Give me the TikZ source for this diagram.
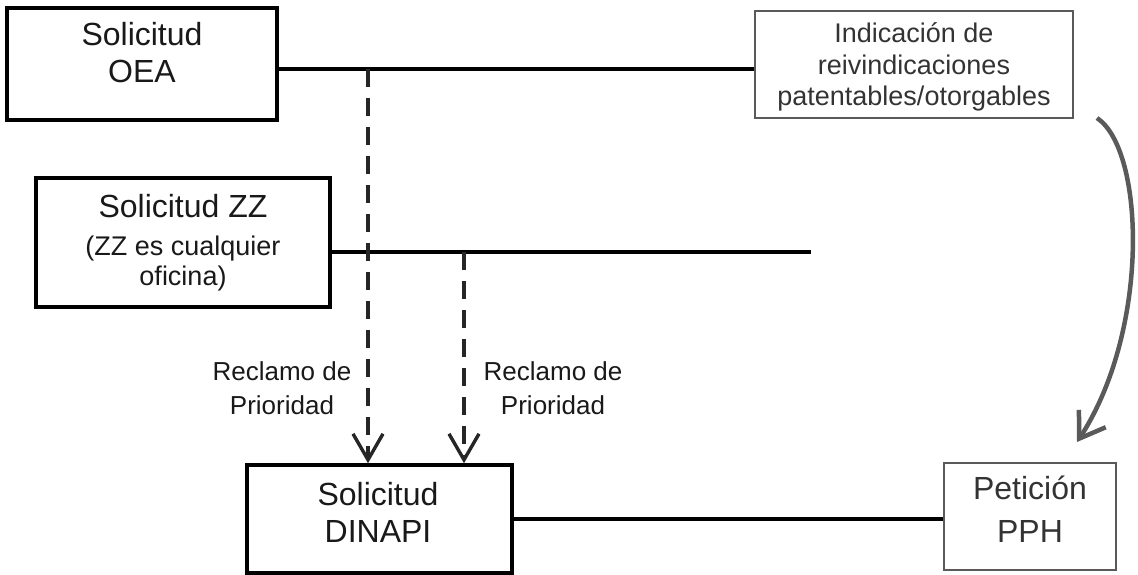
\documentclass[tikz,border=0pt]{standalone}
\usepackage{fontspec}
\setmainfont{Liberation Sans}
\usetikzlibrary{arrows.meta}
\definecolor{boxgray}{HTML}{5A5A5A}
\definecolor{txtgray}{HTML}{333333}
\begin{document}
\begin{tikzpicture}[x=1pt,y=-1pt,
  bbox/.style={draw=black, line width=3.6pt, rectangle, inner sep=0pt},
  gbox/.style={draw=boxgray, line width=1.6pt, rectangle, inner sep=0pt},
  bigtxt/.style={align=center, inner sep=0pt, text=black!90, font=\fontsize{32}{37}\selectfont},
  midtxt/.style={align=center, inner sep=0pt, text=black!90, font=\fontsize{27}{31.5}\selectfont},
  lbltxt/.style={align=center, inner sep=0pt, text=black!90, font=\fontsize{26}{34}\selectfont},
  conn/.style={line width=3.6pt, black},
  dashconn/.style={line width=3.2pt, black!85, dash pattern=on 18pt off 11pt,
    -{Straight Barb[length=26pt,width=30pt,line width=3.4pt]}},
  curvearr/.style={line width=4.5pt, boxgray,
    -{Straight Barb[length=24pt,width=32pt,line width=4.5pt]}}
]
\useasboundingbox (0,0) rectangle (1138,574);

% boxes
\node[bbox, minimum width=270pt, minimum height=112pt] (oea) at (142,64) {};
\node[bigtxt] (oeat) at (142,53) {Solicitud\\OEA};

\node[gbox, minimum width=318pt, minimum height=107pt] (ind) at (914,64.5) {};
\node[midtxt, text=txtgray] (indt) at (914,67) {Indicación de\\reivindicaciones\\patentables/otorgables};

\node[bbox, minimum width=294pt, minimum height=129pt] (zz) at (183,242.5) {};
\node[bigtxt, anchor=base] (zzt) at (183,217) {Solicitud ZZ};
\node[midtxt, anchor=base] (zzs1) at (183,255) {(ZZ es cualquier};
\node[midtxt, anchor=base] (zzs2) at (183,285) {oficina)};

\node[bbox, minimum width=265pt, minimum height=108pt] (dinapi) at (379.5,519) {};
\node[bigtxt] (dinapit) at (378,512) {Solicitud\\DINAPI};

\node[gbox, minimum width=172pt, minimum height=107pt] (pph) at (1030,516.5) {};
\node[bigtxt, text=txtgray, font=\fontsize{32}{43}\selectfont] (ppht) at (1030,509) {Petición\\PPH};

% labels
\node[lbltxt] (lbl1) at (282,388) {Reclamo de\\Prioridad};
\node[lbltxt] (lbl2) at (553,388) {Reclamo de\\Prioridad};

% connectors
\coordinate (oeaout) at ([yshift=-5pt]oea.east);
\draw[conn] (oeaout) -- (oeaout -| ind.west);

\coordinate (zzout) at ([yshift=-9.5pt]zz.east);
\coordinate (zzend) at (811,252);
\draw[conn] (zzout) -- (zzend);

\draw[conn] (dinapi.east) -- (dinapi.east -| pph.west);

\coordinate (d1) at (368,69);
\coordinate (d2) at (464,252);
\draw[dashconn] (d1) -- (d1 |- dinapi.north);
\draw[dashconn] (d2) -- (d2 |- dinapi.north);

\coordinate (cstart) at (1097,118);
\coordinate (cend) at (1077,442);
\draw[curvearr] (cstart) .. controls (1145,150) and (1150,330) .. (cend);
\end{tikzpicture}
\end{document}
